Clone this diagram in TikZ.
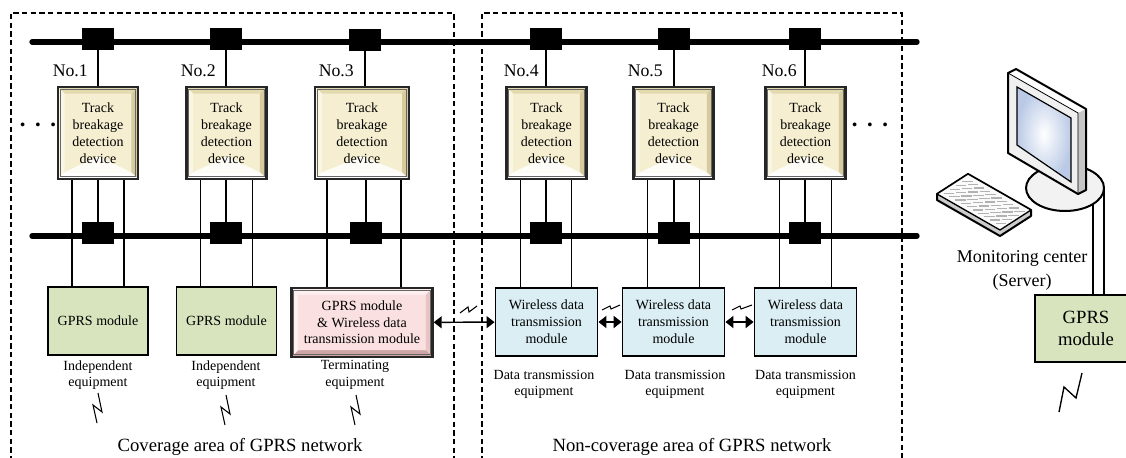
\documentclass[tikz,border=0pt]{standalone}
\usepackage{fontspec}
\setmainfont{Liberation Serif}
\usetikzlibrary{calc,arrows.meta}

\definecolor{devface}{RGB}{245,238,208}
\definecolor{devtop}{RGB}{228,218,176}
\definecolor{devleft}{RGB}{250,246,228}
\definecolor{devright}{RGB}{214,203,156}
\definecolor{gprsgreen}{RGB}{215,228,189}
\definecolor{wlblue}{RGB}{218,238,243}
\definecolor{termpink}{RGB}{250,224,224}
\definecolor{termtop}{RGB}{253,240,240}
\definecolor{termside}{RGB}{232,196,196}
\definecolor{termbot}{RGB}{205,165,165}
\definecolor{screenblue}{RGB}{186,202,230}

\tikzset{
  rail/.style={line width=4pt, line cap=round},
  clamp/.style={fill=black, draw=none, minimum width=24pt, minimum height=16pt, inner sep=0pt},
  wire/.style={line width=1.3pt},
  area/.style={dash pattern=on 4pt off 2.5pt, line width=0.9pt},
  zig/.style={line width=0.8pt},
  link/.style={line width=#1, {Triangle[length=6pt,width=9pt]}-{Triangle[length=6pt,width=9pt]}},
  bevel/.style n args={5}{path picture={
    \path (path picture bounding box.north west) coordinate (bnw)
          (path picture bounding box.north east) coordinate (bne)
          (path picture bounding box.south east) coordinate (bse)
          (path picture bounding box.south west) coordinate (bsw);
    \fill[#1] (bnw) -- (bne) -- ([shift={(-5pt,-5pt)}]bne) -- ([shift={(5pt,-5pt)}]bnw) -- cycle;
    \fill[#2] (bnw) -- (bsw) -- ([shift={(5pt,5pt)}]bsw) -- ([shift={(5pt,-5pt)}]bnw) -- cycle;
    \fill[#3] (bne) -- (bse) -- ([shift={(-5pt,5pt)}]bse) -- ([shift={(-5pt,-5pt)}]bne) -- cycle;
    \fill[#4] (bsw) -- (bse) -- ([shift={(-5pt,5pt)}]bse) -- ([shift={(5pt,5pt)}]bsw) -- cycle;
    \fill[#4, opacity=.85] ([shift={(5pt,5pt)}]bsw) -- ($(bsw)!.5!(bse)+(0pt,#5)$) -- ([shift={(-5pt,5pt)}]bse) -- cycle;
    \draw[black!60, line width=0.6pt] ([shift={(1.6pt,1.6pt)}]bsw) rectangle ([shift={(-1.6pt,-1.6pt)}]bne);
  }},
  devbox/.style={draw=black!85, line width=1.6pt, fill=devface, minimum width=60pt, minimum height=69pt,
    inner sep=0pt, align=center, font=\fontsize{10.5}{12.75}\selectfont,
    bevel={devtop}{devleft}{devright}{white}{17pt}},
  gprsbox/.style={draw=black, line width=1.4pt, fill=gprsgreen, minimum width=75pt, minimum height=51pt,
    inner sep=0pt, align=center, font=\fontsize{10.5}{12.75}\selectfont},
  termbox/.style={draw=black!85, line width=1.8pt, fill=termpink, minimum width=105.75pt, minimum height=51.75pt,
    inner sep=0pt, align=center, font=\fontsize{10.5}{12.4}\selectfont,
    bevel={termtop}{termtop}{termside}{termbot}{0pt}},
  wlbox/.style={draw=black, line width=1.4pt, fill=wlblue, minimum width=76.5pt, minimum height=51pt,
    inner sep=0pt, align=center, font=\fontsize{10.5}{12.75}\selectfont},
  lbl/.style={align=center, inner sep=1pt, font=\fontsize{10.5}{12.4}\selectfont},
  numtxt/.style={anchor=base east, inner sep=0pt, font=\fontsize{13.3}{16}\selectfont},
  areatxt/.style={inner sep=1pt, font=\fontsize{14}{17}\selectfont},
  dots/.style={inner sep=0pt, font=\fontsize{24}{24}\selectfont},
}

\begin{document}
\begin{tikzpicture}[x=0.75pt, y=-0.75pt]
    \useasboundingbox (0,0) rectangle (1126,457);

    % coverage areas
    \draw[area] (11,470) |- (454,13) -- (454,470);
    \draw[area] (482,470) |- (902,13) -- (902,470);

    % rails
    \coordinate (railA) at (32,42);
    \coordinate (railB) at (917,42);
    \coordinate (railC) at (32,236);
    \coordinate (railD) at (917,236);
    \draw[rail] (railA) -- (railB);
    \draw[rail] (railC) -- (railD);

    % clamps on the rails
    \node[clamp] (t1) at (98,39) {};
    \node[clamp] (t2) at (226,39) {};
    \node[clamp] (t3) at (365,40) {};
    \node[clamp] (t4) at (546,39) {};
    \node[clamp] (t5) at (674,39) {};
    \node[clamp] (t6) at (805,39) {};
    \node[clamp] (b1) at (98,233) {};
    \node[clamp] (b2) at (226,233) {};
    \node[clamp] (b3) at (366,233) {};
    \node[clamp] (b4) at (546,233) {};
    \node[clamp] (b5) at (674,233) {};
    \node[clamp] (b6) at (805,233) {};

    % detection devices
    \node[devbox] (d1) at (98,133) {Track\\breakage\\detection\\device};
    \node[devbox] (d2) at (226.5,133) {Track\\breakage\\detection\\device};
    \node[devbox, minimum width=70pt] (d3) at (362,133) {Track\\breakage\\detection\\device};
    \node[devbox] (d4) at (546.5,133) {Track\\breakage\\detection\\device};
    \node[devbox] (d5) at (673.5,133) {Track\\breakage\\detection\\device};
    \node[devbox] (d6) at (805.5,133) {Track\\breakage\\detection\\device};

    \node[numtxt] (n1) at ($(t1 |- d1.north)+(-10,-9)$) {No.1};
    \node[numtxt] (n2) at ($(t2 |- d2.north)+(-10,-9)$) {No.2};
    \node[numtxt] (n3) at ($(t3 |- d3.north)+(-11,-9)$) {No.3};
    \node[numtxt] (n4) at ($(t4 |- d4.north)+(-7,-9)$) {No.4};
    \node[numtxt] (n5) at ($(t5 |- d5.north)+(-11,-9)$) {No.5};
    \node[numtxt] (n6) at ($(t6 |- d6.north)+(-8,-9)$) {No.6};

    \node[dots] (dotsl) at (38,129) {\textperiodcentered\hspace{3.5pt}\textperiodcentered\hspace{3.5pt}\textperiodcentered};
    \node[dots] (dotsr) at (870,129) {\textperiodcentered\hspace{3.5pt}\textperiodcentered\hspace{3.5pt}\textperiodcentered};

    % modules
    \node[gprsbox] (m1) at (98,321) {GPRS module};
    \node[gprsbox] (m2) at (226.5,321) {GPRS module};
    \node[termbox] (m3) at (362,322.5) {GPRS module\\\& Wireless data\\transmission module};
    \node[wlbox] (m4) at (546.5,322) {Wireless data\\transmission\\module};
    \node[wlbox] (m5) at (673.5,322) {Wireless data\\transmission\\module};
    \node[wlbox] (m6) at (805.5,322) {Wireless data\\transmission\\module};

    \node[lbl] (e1) at (98,375) {Independent\\equipment};
    \node[lbl] (e2) at (226,375) {Independent\\equipment};
    \node[lbl] (e3) at (355,375) {Terminating\\equipment};
    \node[lbl] (e4) at (544,384.5) {Data transmission\\equipment};
    \node[lbl] (e5) at (675,384.5) {Data transmission\\equipment};
    \node[lbl] (e6) at (805.5,384.5) {Data transmission\\equipment};

    \node[areatxt] (cov) at (240,447) {Coverage area of GPRS network};
    \node[areatxt] (ncov) at (692,447) {Non-coverage area of GPRS network};

    % wiring between rails, devices and modules
    \draw[wire] (t1) -- (t1 |- d1.north);  \draw[wire] (d1.south -| b1) -- (b1);
    \draw[wire] (t2) -- (t2 |- d2.north);  \draw[wire] (d2.south -| b2) -- (b2);
    \draw[wire] (t3) -- (t3 |- d3.north);  \draw[wire] (d3.south -| b3) -- (b3);
    \draw[wire] (t4) -- (t4 |- d4.north);  \draw[wire] (d4.south -| b4) -- (b4);
    \draw[wire] (t5) -- (t5 |- d5.north);  \draw[wire] (d5.south -| b5) -- (b5);
    \draw[wire] (t6) -- (t6 |- d6.north);  \draw[wire] (d6.south -| b6) -- (b6);
    \draw[wire] ($(d1.south)+(-26,0)$) -- ($(m1.north)+(-26,0)$);
    \draw[wire] ($(d1.south)+(26,0)$) -- ($(m1.north)+(26,0)$);
    \draw[wire] ($(d2.south)+(-26,0)$) -- ($(m2.north)+(-26,0)$);
    \draw[wire] ($(d2.south)+(26,0)$) -- ($(m2.north)+(26,0)$);
    \draw[wire] ($(d3.south)+(-35,0)$) -- ($(m3.north)+(-35,0)$);
    \draw[wire] ($(d3.south)+(39,0)$) -- ($(m3.north)+(39,0)$);
    \draw[wire] ($(d4.south)+(-26,0)$) -- ($(m4.north)+(-26,0)$);
    \draw[wire] ($(d4.south)+(25,0)$) -- ($(m4.north)+(25,0)$);
    \draw[wire] ($(d5.south)+(-26,0)$) -- ($(m5.north)+(-26,0)$);
    \draw[wire] ($(d5.south)+(26,0)$) -- ($(m5.north)+(26,0)$);
    \draw[wire] ($(d6.south)+(-26,0)$) -- ($(m6.north)+(-26,0)$);
    \draw[wire] ($(d6.south)+(26,0)$) -- ($(m6.north)+(26,0)$);

    % radio links
    \draw[link=1.1pt] (m3) -- (m4);
    \draw[link=1.8pt] (m4) -- (m5);
    \draw[link=1.8pt] (m5) -- (m6);
    \draw[zig] (460,313) -- (468,307) -- (469,312) -- (477,306);
    \draw[zig] (602,310) -- (610,306) -- (611,309) -- (620,305);
    \draw[zig] (732,310) -- (740,306) -- (741,309) -- (752,305);
    \draw[zig] (98,393) -- (102,412) -- (93,405) -- (97,423);
    \draw[zig] (226,395) -- (230,414) -- (221,407) -- (225,425);
    \draw[zig] (356,395) -- (360,414) -- (351,407) -- (355,425);

    % monitoring center
    \node[gprsbox, minimum width=76.5pt, minimum height=50.25pt, font=\fontsize{14}{17}\selectfont] (gm) at (1086,328.5) {GPRS\\module};
    \node[align=center, inner sep=0pt, font=\fontsize{13.5}{18}\selectfont] (mon) at (1022,270) {Monitoring center\\(Server)};
    \draw[zig, line width=1pt] (1059,412) -- (1064,387) -- (1076,398) -- (1082,373);

    \filldraw[fill=gray!10, line width=1.5pt] (1065,188) ellipse [x radius=39, y radius=23];
    \coordinate (cabA) at (1093,204);
    \coordinate (cabB) at (1104,188);
    \draw[wire] (cabA) -- (cabA |- gm.north);
    \draw[wire] (cabB) -- (cabB |- gm.north);

    \fill[white] (1008,73) -- (1016,69) -- (1086,109) -- (1078,113) -- cycle;
    \fill[gray!45] (1078,113) -- (1086,109) -- (1086,190) -- (1078,194) -- cycle;
    \fill[gray!12] (1008,73) -- (1078,113) -- (1078,194) -- (1008,153) -- cycle;
    \shade[inner color=white, outer color=screenblue] (1017,87) -- (1071,118) -- (1071,182) -- (1017,145) -- cycle;
    \draw[line width=0.9pt] (1017,87) -- (1071,118) -- (1071,182) -- (1017,145) -- cycle;
    \draw[line width=0.6pt] (1008,73) -- (1078,113) -- (1078,194);
    \draw[line width=1.5pt, line join=round] (1008,73) -- (1016,69) -- (1086,109) -- (1086,190) -- (1078,194) -- (1008,153) -- cycle;

    \filldraw[fill=gray!40, line width=1.5pt, line join=round] (937,194) -- (937,200) -- (1000,236) -- (1031,216) -- (1031,210) -- (968,174) -- cycle;
    \filldraw[fill=gray!4, line width=1pt, line join=round] (937,194) -- (1000,230) -- (1031,210) -- (968,174) -- cycle;
    \begin{scope}[shift={(937,194)}, x={(47.25pt,-27pt)}, y={(23.25pt,15pt)}]
      \foreach \i in {0,...,9}
        \foreach \j in {0,...,3}
          \draw[gray!60, line width=0.4pt] ({0.05+0.092*\i},{0.12+0.2*\j}) rectangle ++(0.075,0.15);
    \end{scope}
  \end{tikzpicture}
\end{document}
